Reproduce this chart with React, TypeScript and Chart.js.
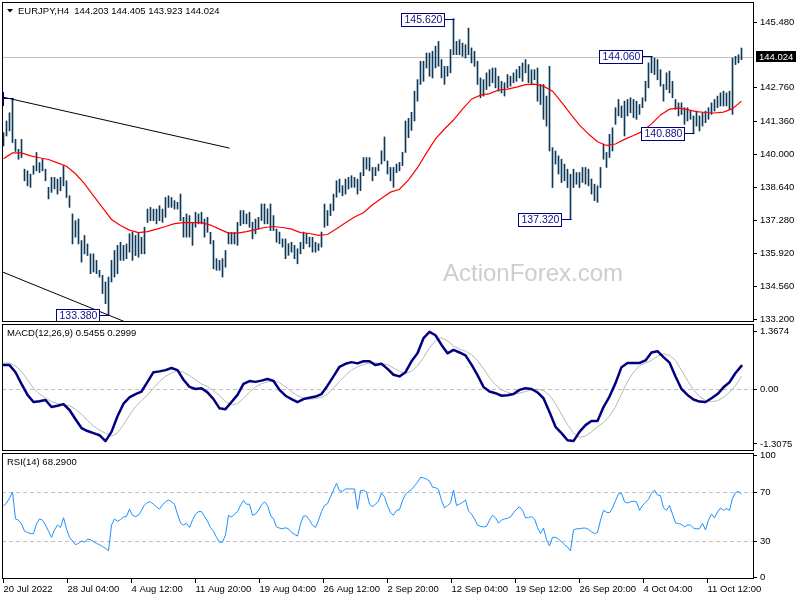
import React, { useEffect, useRef } from 'react';
import { Chart, registerables } from 'chart.js';

Chart.register(...registerables);

// ---------------- data ----------------
const SYMBOL_TITLE = 'EURJPY,H4  144.203 144.405 143.923 144.024';
const MACD_TITLE = 'MACD(12,26,9) 0.5455 0.2999';
const RSI_TITLE = 'RSI(14) 68.2900';
const WATERMARK = 'ActionForex.com';
const BID_PRICE = 144.024;
const BID_LABEL = '144.024';

const DATE_LABELS = [
  '20 Jul 2022', '28 Jul 04:00', '4 Aug 12:00', '11 Aug 20:00', '19 Aug 04:00', '26 Aug 12:00',
  '2 Sep 20:00', '12 Sep 04:00', '19 Sep 12:00', '26 Sep 20:00', '4 Oct 04:00', '11 Oct 12:00',
];
const DATE_TICK_BARS = [0, 21.33, 42.67, 64, 85.33, 106.67, 128, 149.33, 170.67, 192, 213.33, 234.67];

const PRICE_TICKS = [145.48, 142.76, 141.36, 140.0, 138.64, 137.28, 135.92, 134.56, 133.2];
const MACD_TICKS = [1.3674, 0, -1.3075];
const MACD_TICK_LABELS = ['1.3674', '0.00', '-1.3075'];
const MACD_LEVELS = [0];
const RSI_TICKS = [100, 70, 30, 0];
const RSI_LEVELS = [70, 30];

const HIGHS = [
  140.91, 141.39, 141.73, 142.33, 140.63, 140.22, 140.63, 139.40, 139.33, 139.19,
  139.54, 140.09, 139.67, 139.81, 139.40, 138.65, 139.06, 139.06, 138.99, 139.06,
  139.54, 138.92, 138.30, 137.55, 137.27, 137.34, 136.45, 136.66, 136.31, 135.90,
  135.90, 135.63, 135.22, 135.01, 134.74, 134.94, 135.63, 136.04, 136.25, 136.38,
  136.25, 136.31, 136.73, 136.79, 136.66, 136.79, 136.59, 137.00, 137.75, 137.82,
  137.75, 137.75, 137.89, 137.75, 138.23, 138.30, 138.23, 138.10, 138.03, 138.37,
  137.41, 137.55, 137.48, 137.20, 137.62, 137.55, 137.62, 137.34, 137.41, 136.79,
  136.45, 135.70, 135.63, 135.70, 136.04, 136.79, 136.79, 136.79, 137.20, 137.69,
  137.69, 137.55, 137.62, 137.21, 137.34, 137.41, 137.96, 137.96, 137.76, 137.96,
  137.48, 136.93, 136.80, 136.52, 136.52, 136.32, 136.38, 136.25, 136.11, 136.38,
  136.80, 136.73, 136.59, 136.59, 136.38, 136.32, 136.80, 137.96, 137.69, 137.96,
  138.37, 138.92, 138.99, 138.72, 138.99, 139.06, 139.13, 139.06, 138.99, 139.26,
  139.88, 139.88, 139.88, 139.47, 139.47, 139.61, 140.16, 140.73, 139.74, 139.47,
  139.47, 139.61, 139.68, 140.10, 141.39, 141.50, 141.75, 142.62, 143.10, 143.86,
  143.86, 144.20, 144.20, 144.27, 144.48, 144.68, 143.93, 143.65, 143.65, 144.34,
  145.62, 144.68, 144.75, 144.61, 144.54, 145.23, 144.41, 144.27, 143.86, 143.17,
  143.10, 143.38, 143.51, 143.58, 143.58, 143.24, 143.03, 142.97, 143.31, 143.24,
  143.38, 143.51, 143.65, 143.79, 143.93, 143.72, 143.51, 143.51, 143.58, 142.90,
  142.90, 142.42, 143.65, 140.29, 140.15, 139.95, 139.81, 139.61, 139.40, 139.19,
  139.40, 139.26, 139.26, 139.47, 139.47, 139.40, 138.99, 138.78, 138.71, 139.47,
  140.43, 140.09, 140.84, 141.11, 141.94, 142.28, 142.01, 142.21, 142.28, 142.35,
  142.28, 142.21, 142.07, 142.35, 143.03, 143.79, 144.06, 143.99, 143.93, 143.51,
  142.90, 143.38, 143.45, 143.03, 142.28, 142.14, 142.14, 141.94, 141.94, 141.80,
  141.60, 141.80, 141.60, 141.73, 141.80, 141.94, 142.14, 142.28, 142.42, 142.55,
  142.62, 142.55, 142.62, 143.99, 144.06, 144.13, 144.405,
];
const LOWS = [
  140.36, 140.77, 140.98, 140.50, 140.13, 139.81, 139.88, 138.92, 138.71, 138.65,
  139.19, 139.33, 139.26, 139.33, 138.92, 138.17, 138.44, 138.58, 138.37, 138.51,
  138.71, 138.23, 137.82, 136.31, 136.59, 136.31, 135.56, 135.90, 135.83, 135.08,
  135.15, 135.08, 134.94, 134.26, 133.84, 133.38, 134.74, 134.94, 135.08, 135.63,
  135.63, 135.70, 135.97, 135.63, 135.83, 135.76, 135.90, 135.90, 137.20, 137.27,
  137.27, 137.14, 137.27, 137.20, 137.41, 137.82, 137.82, 137.75, 137.75, 137.27,
  136.59, 136.59, 136.59, 136.25, 137.00, 137.14, 137.14, 136.59, 136.79, 136.31,
  135.28, 135.22, 135.22, 134.94, 135.35, 136.31, 136.31, 136.31, 136.25, 137.07,
  137.14, 137.14, 137.00, 136.52, 136.73, 136.93, 137.28, 137.14, 137.14, 136.86,
  136.86, 136.38, 136.32, 136.18, 135.70, 135.84, 135.97, 135.70, 135.49, 135.90,
  136.11, 136.32, 136.18, 135.97, 135.97, 136.04, 136.18, 137.00, 137.07, 137.48,
  137.69, 138.24, 138.44, 138.30, 138.37, 138.58, 138.65, 138.65, 138.37, 138.51,
  139.13, 139.40, 139.33, 138.92, 139.13, 139.33, 139.61, 139.74, 139.20, 138.92,
  138.65, 139.26, 139.33, 139.54, 140.09, 140.70, 141.00, 141.39, 142.21, 142.90,
  143.03, 143.58, 143.24, 143.17, 143.58, 143.65, 143.17, 142.90, 143.24, 143.38,
  144.13, 144.13, 144.13, 144.06, 143.99, 144.13, 143.79, 143.65, 142.90, 142.35,
  142.42, 142.69, 142.83, 142.97, 142.76, 142.62, 142.55, 142.42, 142.76, 142.83,
  142.97, 143.03, 143.17, 143.03, 143.38, 142.97, 142.90, 143.10, 142.21, 142.07,
  141.46, 141.18, 140.15, 138.64, 139.61, 139.20, 138.85, 138.92, 138.64, 137.32,
  138.64, 138.78, 138.64, 138.85, 138.78, 138.71, 138.37, 138.10, 138.03, 138.64,
  139.81, 139.47, 139.88, 140.15, 141.25, 141.60, 141.53, 140.77, 141.60, 141.73,
  141.53, 141.46, 141.66, 141.94, 142.21, 142.76, 143.38, 143.31, 143.10, 142.83,
  142.21, 142.69, 142.55, 142.35, 141.87, 141.60, 141.66, 141.25, 141.39, 141.46,
  140.88, 141.18, 140.98, 141.18, 141.32, 141.46, 141.66, 141.80, 141.94, 142.01,
  142.01, 142.01, 141.87, 141.66, 143.72, 143.79, 143.923,
];

// moving average, one reading every MA_STEP bars
const MA_STEP = 3;
const MA_VALUES = [
  139.83, 140.07, 140.07, 139.95, 139.87, 139.80, 139.66, 139.52, 139.21, 138.80,
  138.30, 137.81, 137.32, 137.07, 136.88, 136.78, 136.82, 136.92, 137.03, 137.15,
  137.19, 137.19, 137.19, 137.09, 136.92, 136.76, 136.76, 136.82, 136.90, 136.99,
  137.03, 136.99, 136.92, 136.78, 136.74, 136.66, 136.70, 136.94, 137.19, 137.42,
  137.60, 137.93, 138.20, 138.45, 138.57, 138.96, 139.46, 140.07, 140.65, 141.06,
  141.43, 141.88, 142.29, 142.46, 142.52, 142.67, 142.71, 142.79, 142.89, 142.91,
  142.83, 142.62, 142.17, 141.68, 141.22, 140.85, 140.53, 140.38, 140.44, 140.63,
  140.79, 140.96, 141.27, 141.64, 141.88, 141.92, 141.86, 141.78, 141.74, 141.72,
  141.76, 141.90, 142.21,
];

// MACD, one reading every MACD_STEP bars
const MACD_STEP = 2;
const MACD_MAIN = [
  0.57, 0.57, 0.40, 0.12, -0.14, -0.31, -0.29, -0.26, -0.43, -0.40,
  -0.36, -0.50, -0.72, -0.93, -1.00, -1.05, -1.10, -1.24, -1.02, -0.65,
  -0.35, -0.20, -0.12, -0.06, 0.17, 0.40, 0.42, 0.45, 0.50, 0.45,
  0.22, 0.05, 0.00, 0.02, -0.08, -0.24, -0.46, -0.48, -0.31, -0.14,
  0.12, 0.19, 0.17, 0.20, 0.24, 0.19, -0.02, -0.16, -0.24, -0.31,
  -0.24, -0.21, -0.18, -0.12, 0.08, 0.30, 0.53, 0.60, 0.64, 0.61,
  0.66, 0.66, 0.57, 0.60, 0.48, 0.34, 0.30, 0.40, 0.66, 0.85,
  1.21, 1.36, 1.28, 1.05, 0.85, 0.93, 0.87, 0.80, 0.58, 0.33,
  0.05, -0.06, -0.10, -0.16, -0.15, -0.12, -0.02, 0.02, 0.00, -0.08,
  -0.22, -0.55, -0.90, -1.05, -1.22, -1.24, -1.02, -0.86, -0.76, -0.76,
  -0.43, -0.18, 0.14, 0.52, 0.62, 0.62, 0.62, 0.68, 0.87, 0.90,
  0.76, 0.63, 0.30, 0.00, -0.14, -0.25, -0.30, -0.31, -0.22, -0.12,
  0.04, 0.16, 0.38, 0.55,
];
const MACD_SIGNAL = [
  0.62, 0.62, 0.55, 0.42, 0.22, 0.02, -0.12, -0.22, -0.30, -0.35,
  -0.38, -0.40, -0.48, -0.60, -0.75, -0.88, -0.98, -1.05, -1.12, -1.05,
  -0.85, -0.62, -0.42, -0.28, -0.14, 0.02, 0.18, 0.30, 0.38, 0.43,
  0.40, 0.32, 0.22, 0.12, 0.06, -0.04, -0.16, -0.30, -0.38, -0.35,
  -0.22, -0.08, 0.05, 0.13, 0.17, 0.20, 0.15, 0.05, -0.06, -0.16,
  -0.22, -0.24, -0.23, -0.20, -0.12, 0.02, 0.18, 0.33, 0.45, 0.53,
  0.58, 0.62, 0.62, 0.60, 0.58, 0.50, 0.42, 0.38, 0.42, 0.55,
  0.75, 0.98, 1.15, 1.22, 1.15, 1.02, 0.95, 0.90, 0.82, 0.68,
  0.48, 0.27, 0.10, -0.02, -0.08, -0.12, -0.10, -0.06, -0.02, 0.00,
  -0.04, -0.15, -0.35, -0.60, -0.85, -1.05, -1.15, -1.12, -1.02, -0.90,
  -0.80, -0.65, -0.42, -0.12, 0.18, 0.40, 0.55, 0.62, 0.68, 0.78,
  0.84, 0.80, 0.68, 0.45, 0.20, -0.02, -0.18, -0.27, -0.30, -0.28,
  -0.20, -0.08, 0.08, 0.30,
];

// RSI, one reading per bar
const RSI_VALUES = [
  58.5, 61, 65, 70, 48, 47, 44, 38, 37, 36,
  36, 44, 48, 47, 43, 38, 33, 39, 43, 41,
  49, 40, 33, 30, 27, 28, 30, 29, 31.6, 31,
  29.5, 28, 27, 25.5, 24, 22, 43, 48, 46, 47.5,
  49.6, 50, 56, 51, 50, 51, 55, 59.5, 61.5, 62,
  60, 58, 56, 59.5, 62, 63.5, 62, 60, 52, 44.7,
  43, 44.5, 41, 47, 52, 54, 54, 50, 46, 41,
  38, 33, 29, 29, 35, 51, 49.5, 52, 54, 59,
  63, 60, 60, 51, 52, 55, 59.5, 62, 59, 51,
  48, 41.5, 40.5, 40, 40.8, 40, 37, 35.5, 34, 44,
  50.4, 50.4, 47, 43, 41, 47, 54, 59, 60.5, 66,
  71.6, 77, 71, 70.5, 72.5, 72.5, 72.5, 72.5, 56, 71,
  71.5, 70, 60, 58, 60, 62.6, 69, 66, 59, 53,
  51, 55, 55.5, 63, 68, 70.5, 72, 75, 78, 82,
  81.5, 80.5, 79, 74, 73.5, 72, 63, 57, 59, 61,
  71.6, 59, 60, 61.5, 63.5, 54.5, 52, 48, 43, 42,
  41.5, 42, 47, 51, 49, 44.7, 47, 48, 48.5, 49.6,
  53, 56, 58, 55, 49, 49, 50, 48, 41, 36,
  40.6, 31, 26, 33, 33, 31.5, 29.5, 27, 25, 22,
  39, 40, 40, 40.5, 40.6, 39.5, 37.5, 36, 37, 47,
  55, 53.5, 53, 57, 63, 68.4, 69, 62, 61, 62,
  62.5, 62, 55, 59, 61.5, 64, 69, 71.5, 67.6, 67,
  57, 55, 59, 52, 44.7, 44.3, 43.5, 41.5, 43, 43,
  40.6, 40, 40, 44.5, 39, 47, 52, 49, 53.7, 57,
  55, 56.5, 55, 65, 69.5, 70.5, 68.3,
];

// swing labels (bar index, price)
const PRICE_LABELS = [
  { text: '142.330', bar: 3, price: 142.33 },
  { text: '133.380', bar: 35, price: 133.38 },
  { text: '145.620', bar: 150, price: 145.62 },
  { text: '137.320', bar: 189, price: 137.32 },
  { text: '144.060', bar: 216, price: 144.06 },
  { text: '140.880', bar: 230, price: 140.88 },
];
// channel lines: [bar, price] anchors
const TREND_UPPER = [[-0.33, 142.38], [75.33, 140.27]];
const TREND_LOWER = [[-0.33, 135.15], [42.33, 133.0]];

// ---------------- layout / style ----------------
const W = 800;
const H = 600;
const FONT = '"Liberation Sans", Arial, Helvetica, sans-serif';
const PLOT_LEFT = 2;
const PLOT_RIGHT = 754;
const AXIS_W = W - PLOT_RIGHT;
const MAIN_BOX = { top: 2, bottom: 322 };
const MACD_BOX = { top: 324, bottom: 451 };
const RSI_BOX = { top: 453, bottom: 579 };
const X_MIN = -0.5;
const X_MAX = X_MIN + (PLOT_RIGHT - PLOT_LEFT) / 3;
const Y_MIN = 133.084;
const Y_MAX = 146.307;
const M_MIN = -1.476;
const M_MAX = 1.548;
const R_MIN = -1.02;
const R_MAX = 101.84;
const BAR_COLOR = '#0e3858';
const TICK_FONT = { family: FONT, size: 9.5 };

function xAxis(show: boolean) {
  return {
    type: 'linear',
    display: show,
    min: X_MIN,
    max: X_MAX,
    offset: false,
    afterBuildTicks: (s: any) => {
      s.ticks = DATE_TICK_BARS.map((v) => ({ value: v }));
    },
    afterFit: (s: any) => {
      if (show) s.height = H - RSI_BOX.bottom;
      s.paddingLeft = 0;
      s.paddingRight = 0;
    },
    ticks: {
      callback: (_v: any, i: number) => DATE_LABELS[i],
      align: 'start',
      maxRotation: 0,
      minRotation: 0,
      autoSkip: false,
      padding: 1,
      color: '#000',
      font: TICK_FONT,
    },
    grid: { drawOnChartArea: false, drawTicks: true, tickLength: 4, color: '#000' },
    border: { display: false },
  };
}

function yAxis(min: number, max: number, ticks: number[], fmt: (v: number, i: number) => string) {
  return {
    type: 'linear',
    position: 'right',
    min,
    max,
    afterBuildTicks: (s: any) => {
      s.ticks = ticks.map((v) => ({ value: v }));
    },
    afterFit: (s: any) => {
      s.width = AXIS_W;
      s.paddingTop = 0;
      s.paddingBottom = 0;
    },
    ticks: {
      callback: (v: any, i: number) => fmt(Number(v), i),
      autoSkip: false,
      padding: 3,
      color: '#000',
      font: TICK_FONT,
    },
    grid: { drawOnChartArea: false, drawTicks: true, tickLength: 3, color: '#000' },
    border: { display: false },
  };
}

const framePlugin = {
  id: 'frame',
  afterDatasetsDraw(chart: any) {
    const { ctx, chartArea: a } = chart;
    ctx.save();
    ctx.strokeStyle = '#000';
    ctx.lineWidth = 1;
    ctx.strokeRect(a.left + 0.5, a.top + 0.5, a.right - a.left - 1, a.bottom - a.top - 1);
    ctx.restore();
  },
};

function levelPlugin(levels: number[]) {
  return {
    id: 'levels',
    beforeDatasetsDraw(chart: any) {
      const { ctx, chartArea: a, scales } = chart;
      ctx.save();
      ctx.strokeStyle = '#c0c0c0';
      ctx.lineWidth = 1;
      ctx.setLineDash([4, 3]);
      levels.forEach((v) => {
        const y = Math.round(scales.y.getPixelForValue(v)) + 0.5;
        ctx.beginPath();
        ctx.moveTo(a.left, y);
        ctx.lineTo(a.right, y);
        ctx.stroke();
      });
      ctx.restore();
    },
  };
}

function titlePlugin(text: string, triangle: boolean) {
  return {
    id: 'title' + text.length,
    afterDraw(chart: any) {
      const { ctx, chartArea: a } = chart;
      ctx.save();
      ctx.fillStyle = '#000';
      ctx.font = `9.5px ${FONT}`;
      ctx.textBaseline = 'middle';
      let x = a.left + 5;
      if (triangle) {
        ctx.beginPath();
        ctx.moveTo(a.left + 5, a.top + 7);
        ctx.lineTo(a.left + 11, a.top + 7);
        ctx.lineTo(a.left + 8, a.top + 10.5);
        ctx.closePath();
        ctx.fill();
        x = a.left + 16;
      }
      ctx.fillText(text, x, a.top + 9.5);
      ctx.restore();
    },
  };
}

const mainDecor = {
  id: 'mainDecor',
  beforeDatasetsDraw(chart: any) {
    const { ctx, chartArea: a, scales } = chart;
    ctx.save();
    ctx.font = `24px ${FONT}`;
    ctx.fillStyle = '#cdcdcd';
    ctx.textBaseline = 'middle';
    ctx.fillText(WATERMARK, 443, 274);
    const y = Math.round(scales.y.getPixelForValue(BID_PRICE)) + 0.5;
    ctx.strokeStyle = '#c0c0c0';
    ctx.lineWidth = 1;
    ctx.beginPath();
    ctx.moveTo(a.left, y);
    ctx.lineTo(a.right, y);
    ctx.stroke();
    ctx.restore();
  },
  afterDatasetsDraw(chart: any) {
    const { ctx, chartArea: a, scales } = chart;
    ctx.save();
    ctx.beginPath();
    ctx.rect(a.left, a.top, a.right - a.left, a.bottom - a.top);
    ctx.clip();
    ctx.font = `10.5px ${FONT}`;
    ctx.textBaseline = 'middle';
    ctx.lineWidth = 1;
    PRICE_LABELS.forEach((l) => {
      const px = Math.round(scales.x.getPixelForValue(l.bar)) + 0.5;
      const py = Math.round(scales.y.getPixelForValue(l.price)) + 0.5;
      const tw = ctx.measureText(l.text).width;
      const bw = Math.round(tw + 5);
      const bh = 13;
      const bx = px - 10 - bw;
      const by = py - 6;
      ctx.strokeStyle = '#000080';
      ctx.beginPath();
      ctx.moveTo(bx + bw, py);
      ctx.lineTo(px, py);
      ctx.stroke();
      ctx.fillStyle = '#ffffff';
      ctx.fillRect(bx, by, bw, bh);
      ctx.strokeRect(bx, by, bw, bh);
      ctx.fillStyle = '#10108a';
      ctx.fillText(l.text, bx + 3, py + 0.5);
    });
    ctx.restore();
  },
  afterDraw(chart: any) {
    const { ctx, chartArea: a, scales } = chart;
    const y = Math.round(scales.y.getPixelForValue(BID_PRICE));
    ctx.save();
    ctx.fillStyle = '#000';
    ctx.fillRect(a.right + 2, y - 6, 40, 11);
    ctx.fillStyle = '#fff';
    ctx.font = `9.5px ${FONT}`;
    ctx.textBaseline = 'middle';
    ctx.fillText(BID_LABEL, a.right + 5, y);
    ctx.restore();
  },
};

const COMMON = {
  responsive: false,
  animation: false,
  events: [],
  plugins: { legend: { display: false }, tooltip: { enabled: false } },
};

function mainConfig(): any {
  return {
    type: 'bar',
    data: {
      datasets: [
        {
          type: 'line',
          data: MA_VALUES.map((v, k) => ({ x: k * MA_STEP, y: v })),
          borderColor: '#ff0000',
          borderWidth: 1.2,
          pointRadius: 0,
          order: 0,
        },
        {
          type: 'line',
          data: TREND_UPPER.map(([x, y]) => ({ x, y })),
          borderColor: '#000',
          borderWidth: 1,
          pointRadius: 0,
          order: 1,
        },
        {
          type: 'line',
          data: TREND_LOWER.map(([x, y]) => ({ x, y })),
          borderColor: '#000',
          borderWidth: 1,
          pointRadius: 0,
          order: 1,
        },
        {
          type: 'bar',
          data: HIGHS.map((h, i) => ({ x: i, y: [LOWS[i], h] })),
          backgroundColor: BAR_COLOR,
          borderWidth: 0,
          barThickness: 1,
          grouped: false,
          order: 3,
        },
      ],
    },
    options: {
      ...COMMON,
      layout: { padding: { left: PLOT_LEFT, top: MAIN_BOX.top, right: 0, bottom: H - MAIN_BOX.bottom } },
      scales: {
        x: xAxis(false),
        y: yAxis(Y_MIN, Y_MAX, PRICE_TICKS, (v) => v.toFixed(3)),
      },
    },
    plugins: [mainDecor, framePlugin, titlePlugin(SYMBOL_TITLE, true)],
  };
}

function macdConfig(): any {
  return {
    type: 'line',
    data: {
      datasets: [
        {
          data: MACD_MAIN.map((v, j) => ({ x: j * MACD_STEP, y: v })),
          borderColor: '#000080',
          borderWidth: 2.5,
          pointRadius: 0,
          borderJoinStyle: 'round',
          borderCapStyle: 'round',
        },
        {
          data: MACD_SIGNAL.map((v, j) => ({ x: j * MACD_STEP, y: v })),
          borderColor: '#b8b8b8',
          borderWidth: 1,
          pointRadius: 0,
        },
      ],
    },
    options: {
      ...COMMON,
      layout: { padding: { left: PLOT_LEFT, top: MACD_BOX.top, right: 0, bottom: H - MACD_BOX.bottom } },
      scales: {
        x: xAxis(false),
        y: yAxis(M_MIN, M_MAX, MACD_TICKS, (_v, i) => MACD_TICK_LABELS[i]),
      },
    },
    plugins: [levelPlugin(MACD_LEVELS), framePlugin, titlePlugin(MACD_TITLE, false)],
  };
}

function rsiConfig(): any {
  return {
    type: 'line',
    data: {
      datasets: [
        {
          data: RSI_VALUES.map((v, i) => ({ x: i, y: v })),
          borderColor: '#1e90ff',
          borderWidth: 1,
          pointRadius: 0,
        },
      ],
    },
    options: {
      ...COMMON,
      layout: { padding: { left: PLOT_LEFT, top: RSI_BOX.top, right: 0, bottom: 0 } },
      scales: {
        x: xAxis(true),
        y: yAxis(R_MIN, R_MAX, RSI_TICKS, (v) => String(v)),
      },
    },
    plugins: [levelPlugin(RSI_LEVELS), framePlugin, titlePlugin(RSI_TITLE, false)],
  };
}

export default function App() {
  const mainRef = useRef<HTMLCanvasElement>(null);
  const macdRef = useRef<HTMLCanvasElement>(null);
  const rsiRef = useRef<HTMLCanvasElement>(null);

  useEffect(() => {
    Chart.defaults.font.family = FONT;
    const charts = [
      new Chart(mainRef.current as HTMLCanvasElement, mainConfig()),
      new Chart(macdRef.current as HTMLCanvasElement, macdConfig()),
      new Chart(rsiRef.current as HTMLCanvasElement, rsiConfig()),
    ];
    return () => charts.forEach((c) => c.destroy());
  }, []);

  const cs: React.CSSProperties = { position: 'absolute', left: 0, top: 0 };
  return (
    <div style={{ position: 'fixed', left: 0, top: 0, width: W, height: H, background: '#fff', overflow: 'hidden' }}>
      <canvas ref={mainRef} width={W} height={H} style={cs} />
      <canvas ref={macdRef} width={W} height={H} style={cs} />
      <canvas ref={rsiRef} width={W} height={H} style={cs} />
    </div>
  );
}
